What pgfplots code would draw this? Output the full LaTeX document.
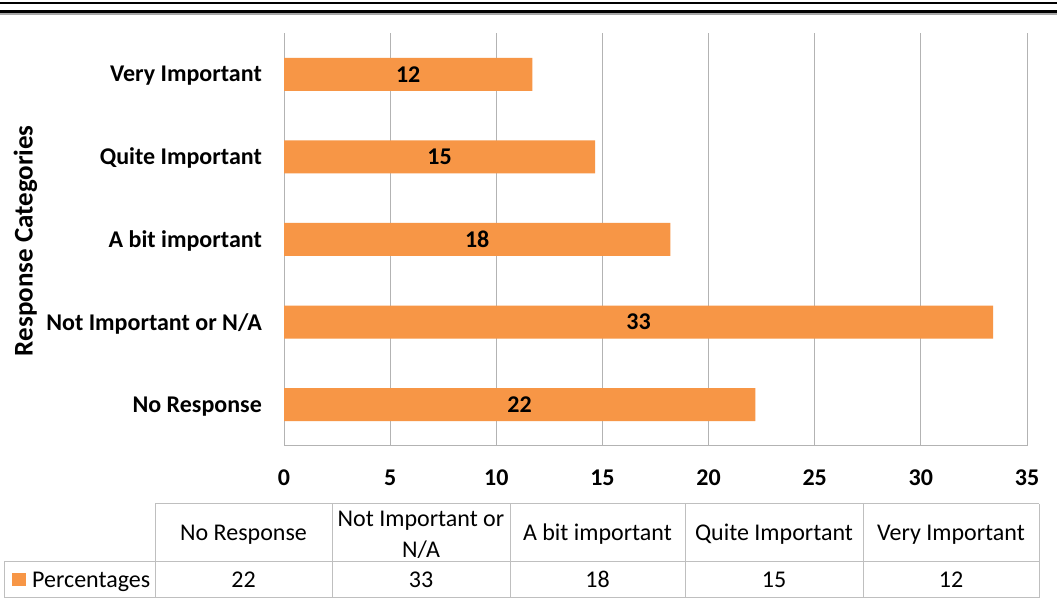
\documentclass[border=0pt]{standalone}
\usepackage{pgfplots}
\pgfplotsset{compat=1.18}
\usepackage{pgfplotstable}
\usepackage{fontspec}
\setmainfont{Carlito}
\definecolor{barorange}{HTML}{F79646}
\definecolor{gridgray}{HTML}{B3B3B3}
\definecolor{tabgray}{HTML}{BFBFBF}

\pgfplotstableread{
y v lab
0 22.2 22
1 33.4 33
2 18.2 18
3 14.65 15
4 11.7 12
}\datatab

\begin{document}
\begin{tikzpicture}[x=1pt,y=1pt]
\useasboundingbox (0,0) rectangle (1057,615);
\fill[white] (0,0) rectangle (1057,615);
% top rules
\draw[black, line width=2.3pt] (0,612) -- (1057,612);
\draw[black, line width=3.3pt] (0,603.3) -- (1057,603.3);
\draw[gray!70, line width=1.7pt] (0,600.8) -- (1057,600.8);
\begin{axis}[
  at={(284pt,169pt)}, anchor=south west,
  scale only axis, width=743pt, height=413pt,
  xmin=0, xmax=35, ymin=-0.5, ymax=4.5,
  xtick={0,5,...,35}, ytick={0,...,4},
  yticklabels={No Response, Not Important or N/A, A bit important, Quite Important, Very Important},
  major tick length=0pt,
  xmajorgrids, major grid style={gridgray, line width=1pt},
  axis lines*=left,
  axis line style={gridgray, line width=1pt},
  tick label style={font=\fontsize{24}{28}\selectfont\bfseries},
  /pgf/number format/assume math mode=true,
  xticklabel style={anchor=base, yshift=-40pt, inner sep=0pt},
  yticklabel style={anchor=east, inner sep=0pt, xshift=-22pt, yshift=-1.5pt},
  ylabel={Response Categories},
  ylabel style={font=\fontsize{27}{32}\selectfont\bfseries, at={(axis description cs:-0.348,0.497)}, anchor=center},
]
\addplot[xbar, bar width=33pt, bar shift=0pt, fill=barorange, draw=none] table[x=v,y=y]{\datatab};
\addplot[draw=none, mark=none, nodes near coords, point meta=explicit symbolic,
  nodes near coords style={anchor=center, font=\fontsize{24}{28}\selectfont\bfseries, text=black}]
  table[x expr=\thisrow{v}/2, y=y, meta=lab]{\datatab};
\end{axis}
% data table
\begin{scope}[tabgray, line width=1pt]
\draw (155,111) -- (1039,111);
\draw (4,53) -- (1039,53);
\draw (4,17) -- (1039,17);
\draw (4,53) -- (4,17);
\foreach \xx in {155,332,510,685,863,1039} \draw (\xx,111) -- (\xx,17);
\end{scope}
\begin{scope}[font=\fontsize{24}{31}\selectfont, text=black, inner sep=0pt]
\node[anchor=base] at (243.5,74.5) {No Response};
\node[anchor=base] at (421,88.5) {Not Important or};
\node[anchor=base] at (421,57.5) {N/A};
\node[anchor=base] at (597.5,74.5) {A bit important};
\node[anchor=base] at (774,74.5) {Quite Important};
\node[anchor=base] at (951,74.5) {Very Important};
\fill[barorange] (12,29) rectangle (26,42);
\node[anchor=base west] at (32,27.5) {Percentages};
\node[anchor=base] at (243.5,27.5) {22};
\node[anchor=base] at (421,27.5) {33};
\node[anchor=base] at (597.5,27.5) {18};
\node[anchor=base] at (774,27.5) {15};
\node[anchor=base] at (951,27.5) {12};
\end{scope}
\end{tikzpicture}
\end{document}
